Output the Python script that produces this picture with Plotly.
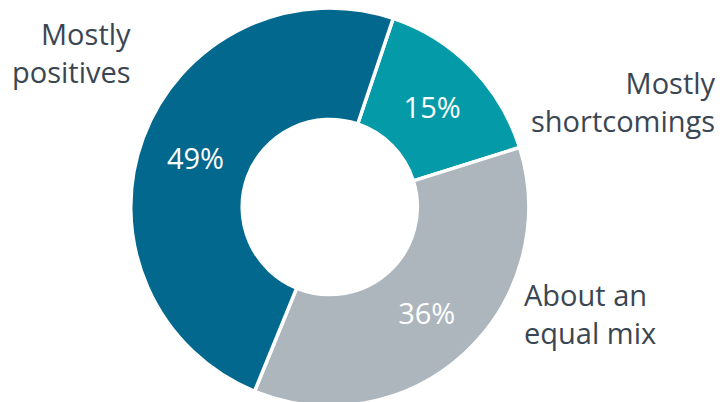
import plotly.graph_objects as go

categories = ["Mostly shortcomings", "About an equal mix", "Mostly positives"]
label_lines = [["Mostly", "shortcomings"], ["About an", "equal mix"], ["Mostly", "positives"]]
values = [15, 36, 49]
colors = ["#059AA8", "#ADB5BD", "#02688E"]

FONT = "Open Sans"

fig = go.Figure(go.Pie(
    labels=categories,
    values=values,
    sort=False,
    direction="clockwise",
    rotation=18.6,
    hole=0.44,
    marker=dict(colors=colors, line=dict(color="white", width=3.5)),
    textinfo="percent",
    texttemplate="%{percent:.0%}",
    textposition="inside",
    insidetextorientation="horizontal",
    textfont=dict(family=FONT, size=29, color="white"),
    domain=dict(x=[0.17, 0.73], y=[0.0, 1.0]),
    showlegend=False,
    hoverinfo="label+percent",
))

label_pos = {
    "Mostly positives": dict(x=0.1748, y=0.8894, xanchor="right", align="right"),
    "Mostly shortcomings": dict(x=0.9925, y=0.765, xanchor="right", align="right"),
    "About an equal mix": dict(x=0.7189, y=0.2312, xanchor="left", align="left"),
}
for cat, lines in zip(categories, label_lines):
    p = label_pos[cat]
    fig.add_annotation(
        text="<br>".join(lines), x=p["x"], y=p["y"], xref="paper", yref="paper",
        xanchor=p["xanchor"], yanchor="middle", align=p["align"], showarrow=False,
        font=dict(family=FONT, size=29, color="#3A4652"),
    )

fig.update_layout(
    width=715, height=398,
    margin=dict(l=0, r=0, t=0, b=0),
    paper_bgcolor="white", plot_bgcolor="white",
)
fig.write_html("out.html")
